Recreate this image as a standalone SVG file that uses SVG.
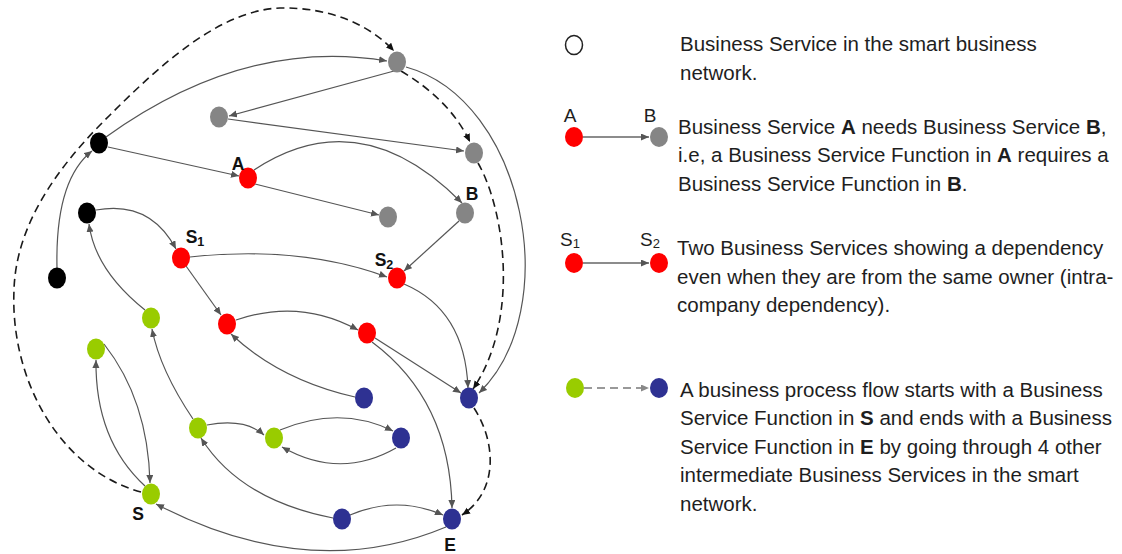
<svg xmlns="http://www.w3.org/2000/svg" width="1122" height="554" viewBox="0 0 1122 554">
  <defs>
    <style>
      .edge { fill: none; stroke: #555; stroke-width: 1.2; marker-end: url(#arr); }
      .flow { fill: none; stroke: #1a1a1a; stroke-width: 1.6; stroke-dasharray: 8 5; marker-end: url(#arrDark); }
      .gray { fill: #858585; }
      .black { fill: #000; }
      .red { fill: #ff0000; }
      .green { fill: #99cc00; }
      .blue { fill: #2e3192; }
      .lbl { font-family: "Liberation Sans", Arial, sans-serif; font-weight: bold; font-size: 17.5px; fill: #111; text-anchor: middle; }
      .sub { font-size: 12.5px; }
      .txt { font-family: "Liberation Sans", Arial, sans-serif; font-size: 20.5px; fill: #1e1e1e; }
      .keylbl { font-family: "Liberation Sans", Arial, sans-serif; font-size: 19px; fill: #1e1e1e; text-anchor: middle; }
      .b { font-weight: bold; }
    </style>
    <marker id="arr" markerUnits="userSpaceOnUse" markerWidth="10" markerHeight="8" refX="8" refY="3.5" orient="auto">
      <path d="M0,0 L8,3.5 L0,7 z" fill="#555"/>
    </marker>
    <marker id="arrDark" markerUnits="userSpaceOnUse" markerWidth="10" markerHeight="8" refX="8" refY="3.5" orient="auto">
      <path d="M0,0 L8,3.5 L0,7 z" fill="#111"/>
    </marker>
    <marker id="arrKey" markerUnits="userSpaceOnUse" markerWidth="10" markerHeight="8" refX="8" refY="3.5" orient="auto">
      <path d="M0,0 L8,3.5 L0,7 z" fill="#888"/>
    </marker>
  </defs>

  <rect width="1122" height="554" fill="#fff"/>

  <!-- dependencies between business services, plus the dashed process flow -->
  <g id="connectors">
    <path class="edge" d="M 106 137 Q 245 37 387 61"/>
    <path class="edge" d="M 394 71 L 229 116"/>
    <path class="edge" d="M 228 119 L 464 151"/>
    <path class="edge" d="M 406 67 C 525 100, 565 310, 479 393"/>
    <path class="edge" d="M 108 147 L 239 176"/>
    <path class="edge" d="M 255 184 L 379 215"/>
    <path class="edge" d="M 254 170 Q 360 100 462 203"/>
    <path class="edge" d="M 459 221 L 404 271"/>
    <path class="edge" d="M 96 210 Q 150 200 176 249"/>
    <path class="edge" d="M 145 310 Q 95 270 89 224"/>
    <path class="edge" d="M 190 257 Q 300 245 387 277"/>
    <path class="edge" d="M 186 266 L 221 315"/>
    <path class="edge" d="M 236 320 Q 300 298 358 330"/>
    <path class="edge" d="M 355 397 Q 280 380 231 334"/>
    <path class="edge" d="M 404 284 Q 465 310 468 388"/>
    <path class="edge" d="M 375 338 L 461 393"/>
    <path class="edge" d="M 372 342 Q 450 400 452 508"/>
    <path class="edge" d="M 104 344 Q 148 400 150 483"/>
    <path class="edge" d="M 145 486 Q 95 440 96 360"/>
    <path class="edge" d="M 193 419 Q 160 370 152 329"/>
    <path class="edge" d="M 207 425 Q 245 418 264 435"/>
    <path class="edge" d="M 280 430 Q 340 405 393 431"/>
    <path class="edge" d="M 396 448 Q 340 480 282 447"/>
    <path class="edge" d="M 333 518 Q 240 500 201 438"/>
    <path class="edge" d="M 350 515 Q 397 495 443 515"/>
    <path class="edge" d="M 446 527 Q 310 584 156 504"/>
    <path class="edge" d="M 57 268 Q 55 180 92 151"/>

    <path class="flow" d="M 141 492 C 60 470, 10 380, 14 290 C 16 220, 64 160, 110 115 C 160 65, 220 10, 280 8 C 330 7, 370 25, 394 51"/>
    <path class="flow" d="M 401 71 Q 450 100 470 142"/>
    <path class="flow" d="M 478 163 C 505 210, 520 320, 473 389"/>
    <path class="flow" d="M 474 408 C 495 440, 500 490, 462 515"/>
  </g>

  <!-- business services -->
  <g id="svc-gray-top"><ellipse class="gray" cx="397" cy="62" rx="9" ry="10.5"/></g>
  <g id="svc-gray-2"><ellipse class="gray" cx="219" cy="117" rx="9" ry="10.5"/></g>
  <g id="svc-black-1"><ellipse class="black" cx="99" cy="143" rx="9" ry="10.5"/></g>
  <g id="svc-A">
    <ellipse class="red" cx="248" cy="178" rx="9" ry="10.5"/>
    <text class="lbl" x="238" y="169.5">A</text>
  </g>
  <g id="svc-gray-right"><ellipse class="gray" cx="474" cy="153" rx="9" ry="10.5"/></g>
  <g id="svc-gray-mid"><ellipse class="gray" cx="388" cy="217" rx="9" ry="10.5"/></g>
  <g id="svc-B">
    <ellipse class="gray" cx="465" cy="213" rx="9" ry="10.5"/>
    <text class="lbl" x="472" y="199.5">B</text>
  </g>
  <g id="svc-black-2"><ellipse class="black" cx="87" cy="213" rx="9" ry="10.5"/></g>
  <g id="svc-S1">
    <ellipse class="red" cx="181" cy="258" rx="9" ry="10.5"/>
    <text class="lbl" x="195" y="243">S<tspan class="sub" dy="3">1</tspan></text>
  </g>
  <g id="svc-S2">
    <ellipse class="red" cx="397" cy="278" rx="9" ry="10.5"/>
    <text class="lbl" x="384" y="266">S<tspan class="sub" dy="3">2</tspan></text>
  </g>
  <g id="svc-black-3"><ellipse class="black" cx="57" cy="278" rx="9" ry="10.5"/></g>
  <g id="svc-green-1"><ellipse class="green" cx="151" cy="318" rx="9" ry="10.5"/></g>
  <g id="svc-red-3"><ellipse class="red" cx="227" cy="324" rx="9" ry="10.5"/></g>
  <g id="svc-red-4"><ellipse class="red" cx="367" cy="333" rx="9" ry="10.5"/></g>
  <g id="svc-green-3"><ellipse class="green" cx="96" cy="349" rx="9" ry="10.5"/></g>
  <g id="svc-blue-1"><ellipse class="blue" cx="364" cy="398" rx="9" ry="10.5"/></g>
  <g id="svc-blue-2"><ellipse class="blue" cx="469" cy="398" rx="9" ry="10.5"/></g>
  <g id="svc-green-4"><ellipse class="green" cx="198" cy="428" rx="9" ry="10.5"/></g>
  <g id="svc-green-5"><ellipse class="green" cx="274" cy="438" rx="9" ry="10.5"/></g>
  <g id="svc-blue-3"><ellipse class="blue" cx="401" cy="438" rx="9" ry="10.5"/></g>
  <g id="svc-S">
    <ellipse class="green" cx="151" cy="494" rx="9" ry="10.5"/>
    <text class="lbl" x="138" y="520">S</text>
  </g>
  <g id="svc-blue-4"><ellipse class="blue" cx="342" cy="519" rx="9" ry="10.5"/></g>
  <g id="svc-E">
    <ellipse class="blue" cx="452" cy="519" rx="9" ry="10.5"/>
    <text class="lbl" x="450" y="551">E</text>
  </g>

  <!-- key -->
  <g id="key-service">
    <ellipse cx="574" cy="45" rx="8.5" ry="9.5" fill="#fff" stroke="#222" stroke-width="1.5"/>
    <text class="txt" x="680" y="51">Business Service in the smart business</text>
    <text class="txt" x="680" y="80">network.</text>
  </g>
  <g id="key-needs">
    <text class="keylbl" x="570" y="121.5">A</text>
    <text class="keylbl" x="650" y="121.5">B</text>
    <line x1="583" y1="137" x2="649" y2="137" stroke="#666" stroke-width="1.4" marker-end="url(#arr)"/>
    <ellipse class="red" cx="574" cy="137" rx="9" ry="10"/>
    <ellipse class="gray" cx="659" cy="137" rx="9" ry="10"/>
    <text class="txt" x="678" y="133.5">Business Service <tspan class="b">A</tspan> needs Business Service <tspan class="b">B</tspan>,</text>
    <text class="txt" x="678" y="162">i.e, a Business Service Function in <tspan class="b">A</tspan> requires a</text>
    <text class="txt" x="678" y="190.5">Business Service Function in <tspan class="b">B</tspan>.</text>
  </g>
  <g id="key-intra">
    <text class="keylbl" x="570" y="246">S<tspan font-size="13" dy="2">1</tspan></text>
    <text class="keylbl" x="650" y="246">S<tspan font-size="13" dy="2">2</tspan></text>
    <line x1="583" y1="263" x2="649" y2="263" stroke="#666" stroke-width="1.4" marker-end="url(#arr)"/>
    <ellipse class="red" cx="574" cy="263" rx="9" ry="10"/>
    <ellipse class="red" cx="659" cy="263" rx="9" ry="10"/>
    <text class="txt" x="677" y="255">Two Business Services showing a dependency</text>
    <text class="txt" x="677" y="283.5">even when they are from the same owner (intra-</text>
    <text class="txt" x="677" y="312">company dependency).</text>
  </g>
  <g id="key-flow">
    <line x1="584" y1="388" x2="649" y2="388" stroke="#999" stroke-width="1.8" stroke-dasharray="8 5" marker-end="url(#arrKey)"/>
    <ellipse class="green" cx="575" cy="388" rx="9" ry="10"/>
    <ellipse class="blue" cx="659" cy="388" rx="9" ry="10"/>
    <text class="txt" x="680" y="396.5">A business process flow starts with a Business</text>
    <text class="txt" x="680" y="425">Service Function in <tspan class="b">S</tspan> and ends with a Business</text>
    <text class="txt" x="680" y="453.5">Service Function in <tspan class="b">E</tspan> by going through 4 other</text>
    <text class="txt" x="680" y="482">intermediate Business Services in the smart</text>
    <text class="txt" x="680" y="510.5">network.</text>
  </g>
</svg>
